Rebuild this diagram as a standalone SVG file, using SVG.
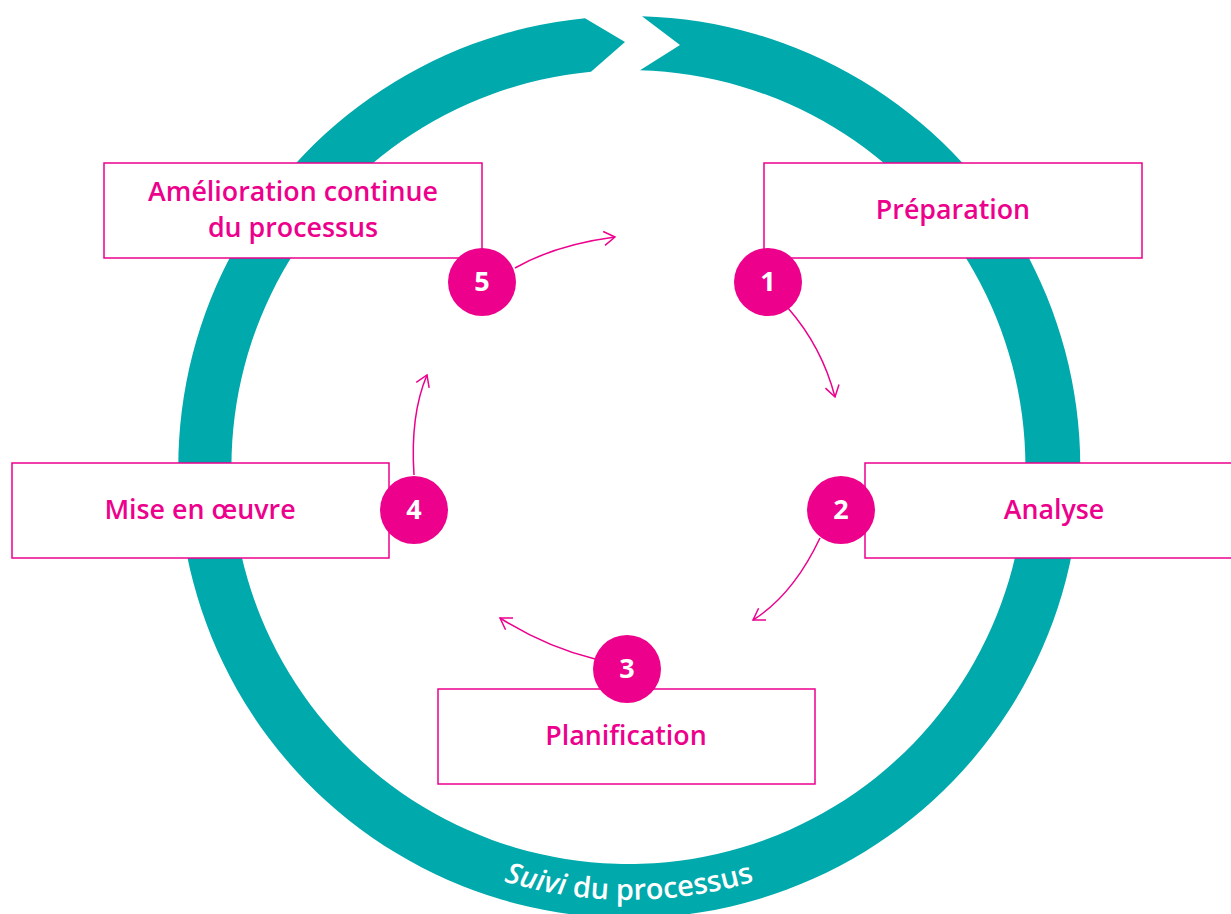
<svg xmlns="http://www.w3.org/2000/svg" width="1231" height="914" viewBox="0 0 1231 914">
<style>
.box{fill:#fff;stroke:#EC008C;stroke-width:1.5}
.lbl{font-family:"Open Sans","Liberation Sans",sans-serif;font-weight:600;font-size:26.8px;fill:#EC008C;text-anchor:middle}
.dot{fill:#EC008C}
.num{font-family:"Open Sans","Liberation Sans",sans-serif;font-weight:700;font-size:27px;fill:#fff;text-anchor:middle}
.con{fill:none;stroke:#EC008C;stroke-width:1.5}
</style>
<defs>
<marker id="ah" markerUnits="userSpaceOnUse" markerWidth="20" markerHeight="20" refX="12" refY="8" orient="auto" viewBox="0 0 20 16">
<path d="M1,1 L12,8 L1,15" fill="none" stroke="#EC008C" stroke-width="1.5"/>
</marker>
<path id="arcTxt" d="M196,467 A433,433 0 0 0 1062,467"/>
</defs>
<g id="ring">
<path d="M642,16.2 A451,451 0 1 1 585,18.2 L625,42 L591,71.8 A397,397 0 1 0 640,70.2 L680,45 Z" fill="#00A9AC"/>
<text font-family="Open Sans,Liberation Sans,sans-serif" font-size="29" fill="#fff" font-weight="600"><textPath href="#arcTxt" startOffset="50%" text-anchor="middle"><tspan font-style="italic">Suivi</tspan> du processus</textPath></text>
</g>
<g id="connectors">
<path class="con" d="M515,268 Q555,245 615,237" marker-end="url(#ah)"/>
<path class="con" d="M788,308 Q822,347 835,397" marker-end="url(#ah)"/>
<path class="con" d="M820,538 Q793,595 753,620" marker-end="url(#ah)"/>
<path class="con" d="M595,659 Q546,647 500,618" marker-end="url(#ah)"/>
<path class="con" d="M414,475 Q410,415 427,375" marker-end="url(#ah)"/>
</g>
<g id="node5">
<rect class="box" x="104" y="163" width="378" height="95"/>
<text class="lbl" x="293" y="201">Amélioration continue</text>
<text class="lbl" x="293" y="237">du processus</text>
<circle class="dot" cx="482" cy="282" r="34"/>
<text class="num" x="482" y="291">5</text>
</g>
<g id="node1">
<rect class="box" x="764" y="163" width="378" height="95"/>
<text class="lbl" x="953" y="219">Préparation</text>
<circle class="dot" cx="768" cy="282" r="34"/>
<text class="num" x="768" y="291">1</text>
</g>
<g id="node4">
<rect class="box" x="12" y="463" width="377" height="95"/>
<text class="lbl" x="200" y="519">Mise en œuvre</text>
<circle class="dot" cx="414" cy="510" r="34"/>
<text class="num" x="414" y="519">4</text>
</g>
<g id="node2">
<rect class="box" x="865" y="463" width="378" height="95"/>
<text class="lbl" x="1054" y="519">Analyse</text>
<circle class="dot" cx="841" cy="510" r="34"/>
<text class="num" x="841" y="519">2</text>
</g>
<g id="node3">
<rect class="box" x="438" y="689" width="377" height="95"/>
<text class="lbl" x="626" y="745">Planification</text>
<circle class="dot" cx="627" cy="669" r="34"/>
<text class="num" x="627" y="678">3</text>
</g>
</svg>
